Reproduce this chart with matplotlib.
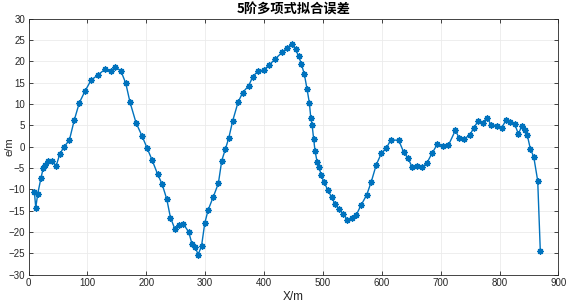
import matplotlib
matplotlib.use("Agg")
import matplotlib.pyplot as plt

x_m = [9.9, 12.3, 15.7, 21.2, 25.2, 28.6, 33.7, 40.5, 46.7, 52.9, 60.3, 69.3, 77.8, 86.3, 96,
       106.2, 118.6, 129.4, 140, 147.3, 157, 165.1, 172.4, 182.6, 192.8, 201.3, 209.8, 219.4,
       226.7, 234.8, 241, 248.3, 255.7, 262.4, 272.1, 277.6, 283.4, 288, 293.8, 299.3, 305.1,
       313.9, 322.4, 328.1, 334.2, 340, 346.8, 355.8, 363.7, 373.9, 380.8, 389.3, 399.4, 409,
       419.2, 430.5, 439.5, 447, 453.5, 458.8, 463.3, 468.4, 473, 477, 479.3, 481.6, 484.3,
       486.5, 490, 493.4, 496.7, 501.8, 508.1, 514.9, 520.5, 527.3, 534.6, 541.4, 549.4, 556.2,
       564.7, 574.3, 582.1, 590.6, 599.4, 607.8, 615.2, 628.7, 637.2, 644.5, 651.2, 659.7,
       668.2, 676.2, 685.8, 694.4, 703.3, 712.9, 724.8, 731.6, 739.5, 749.8, 756.3, 763.7,
       771.3, 778.1, 785.5, 795, 803.6, 811.4, 818.1, 825.7, 831.8, 838, 842.6, 847, 852.2,
       858, 864.7, 869.1]
err_m = [-10.5, -14.3, -11.0, -7.3, -4.9, -4.3, -3.35, -3.3, -4.6, -1.8, 0.0, 1.5, 6.3, 10.3,
         13.05, 15.6, 16.9, 18.1, 17.7, 18.8, 17.7, 14.9, 10.4, 5.6, 2.5, -0.3, -3.1, -6.5,
         -8.7, -12.3, -16.6, -19.2, -18.3, -18.0, -20.0, -22.8, -23.6, -25.3, -23.3, -17.9,
         -14.8, -11.7, -8.6, -3.3, -0.6, 2.0, 6.1, 10.4, 12.7, 14.3, 16.4, 17.7, 18.0, 19.2,
         20.6, 22.1, 23.2, 24.1, 22.8, 21.2, 19.4, 17.0, 13.5, 10.2, 6.8, 5.1, 1.7, -0.9, -3.5,
         -4.7, -6.6, -8.3, -10.1, -11.9, -13.4, -14.7, -15.8, -17.1, -16.8, -16.1, -13.7,
         -11.3, -8.2, -4.2, -1.5, -0.3, 1.6, 1.5, -1.3, -2.7, -4.7, -4.6, -4.8, -3.9, -1.4,
         0.6, 0.2, 0.3, 3.8, 2.0, 1.8, 2.8, 4.5, 6.0, 5.5, 6.8, 5.2, 4.9, 4.5, 6.3, 5.8, 5.3,
         3.0, 4.9, 4.0, 2.7, -0.5, -2.4, -8.0, -24.4]

x_ticks = [0, 100, 200, 300, 400, 500, 600, 700, 800, 900]
y_ticks = [-30, -25, -20, -15, -10, -5, 0, 5, 10, 15, 20, 25, 30]
title = "5阶多项式拟合误差"

plt.rcParams['font.family'] = ['Liberation Sans', 'Noto Sans CJK SC', 'DejaVu Sans']

fig = plt.figure(figsize=(5.67, 3.02), dpi=100)
ax = fig.add_axes([0.0503, 0.0904, 0.9347, 0.8476])
ax.plot(x_m, err_m, color='#0072BD', linewidth=1.0, marker=(8, 2, 0),
        markersize=4.5, markeredgewidth=1.0)
ax.set_xlim(0, 900)
ax.set_ylim(-30, 30)
ax.set_xticks(x_ticks)
ax.set_yticks(y_ticks)
ax.grid(True, color='#ebebeb', linewidth=0.6)
ax.set_axisbelow(True)
ax.tick_params(direction='in', length=3, width=0.6, labelsize=7, colors='#262626',
               top=True, right=True, pad=2.5)
for s in ax.spines.values():
    s.set_color('#262626')
    s.set_linewidth(0.6)
ax.set_xlabel('X/m', fontsize=8.5, labelpad=2, color='#262626')
ax.set_ylabel('e/m', fontsize=8, color='#262626')
ax.yaxis.set_label_coords(-0.027, 0.5)
ax.set_title(title, fontsize=9.5, fontweight='bold', family=['Noto Sans CJK SC', 'DejaVu Sans'],
             pad=4)
fig.savefig('out.png', dpi=100)
